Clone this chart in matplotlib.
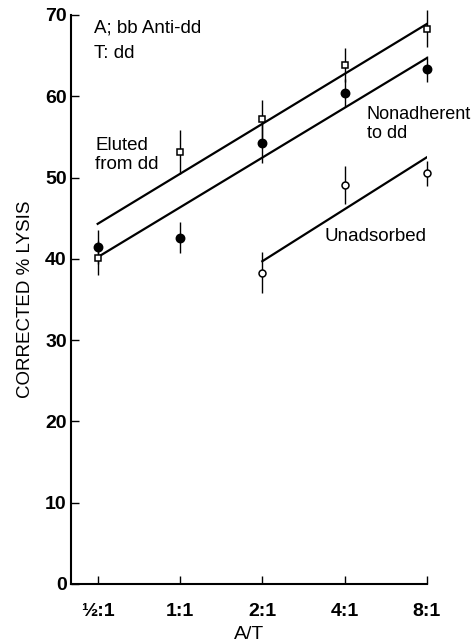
import matplotlib
matplotlib.use("Agg")
import matplotlib.pyplot as plt

plt.rcParams["font.family"] = ["Liberation Sans", "DejaVu Sans"]

ratios = ["½:1", "1:1", "2:1", "4:1", "8:1"]
pos = [0, 1, 2, 3, 4]

# Eluted from dd (open squares)
eluted = [40.1, 53.1, 57.2, 63.8, 68.3]
eluted_err = [2.1, 2.7, 2.3, 2.1, 2.3]
eluted_fit = [44.3, 68.9]

# Nonadherent to dd (filled circles)
nonadh = [41.5, 42.6, 54.3, 60.4, 63.3]
nonadh_err = [2.1, 1.9, 2.5, 1.7, 1.6]
nonadh_fit = [40.2, 64.7]

# Unadsorbed (open circles), from 2:1 on
unads_pos = [2, 3, 4]
unads = [38.3, 49.1, 50.5]
unads_err = [2.5, 2.3, 1.5]
unads_fit = [39.7, 52.5]

fig = plt.figure(figsize=(4.76, 6.43), dpi=100)
ax = fig.add_axes([0.149, 0.0918, 0.748, 0.885])

ax.plot([pos[0], pos[-1]], eluted_fit, color="black", lw=1.6)
ax.plot([pos[0], pos[-1]], nonadh_fit, color="black", lw=1.6)
ax.plot([unads_pos[0], unads_pos[-1]], unads_fit, color="black", lw=1.6)

series = [
    (pos, eluted, eluted_err, "s", 5, "white"),
    (pos, nonadh, nonadh_err, "o", 6, "black"),
    (unads_pos, unads, unads_err, "o", 5, "white"),
]
for xs, ys, errs, mk, ms, fc in series:
    bars = ax.errorbar(xs, ys, yerr=errs, fmt=mk, ms=ms, mfc=fc, mec="black",
                       mew=1.1, ecolor="black", elinewidth=1.0, capsize=0, zorder=3)
    for art in bars.lines[0:1] + tuple(bars.lines[2]):
        art.set_clip_on(False)

ax.set_xlim(-0.325, 4)
ax.set_ylim(0, 70)
ax.set_xticks(pos)
ax.set_xticklabels(ratios)
ax.set_yticks(range(0, 71, 10))
ax.tick_params(direction="in", length=6, width=1.0, labelsize=14)
ax.tick_params(axis="y", pad=3)
ax.tick_params(axis="x", pad=14)
for lab in ax.get_xticklabels() + ax.get_yticklabels():
    lab.set_fontweight("bold")

ax.spines["top"].set_visible(False)
ax.spines["right"].set_visible(False)
ax.spines["left"].set_linewidth(1.5)
ax.spines["bottom"].set_linewidth(1.5)

ax.set_xlabel("A/T", fontsize=14, labelpad=4)
ax.set_ylabel("CORRECTED % LYSIS", fontsize=13.5, labelpad=8)

ax.text(-0.05, 68.4, "A; bb Anti-dd", fontsize=13.5, va="center")
ax.text(-0.05, 65.2, "T: dd", fontsize=13.5, va="center")
ax.text(-0.03, 52.8, "Eluted\nfrom dd", fontsize=13.5, va="center", linespacing=1.15)
ax.text(3.27, 56.6, "Nonadherent\nto dd", fontsize=13, va="center", linespacing=1.2)
ax.text(2.76, 42.7, "Unadsorbed", fontsize=13.5, va="center")

fig.savefig("out.png", dpi=100)
